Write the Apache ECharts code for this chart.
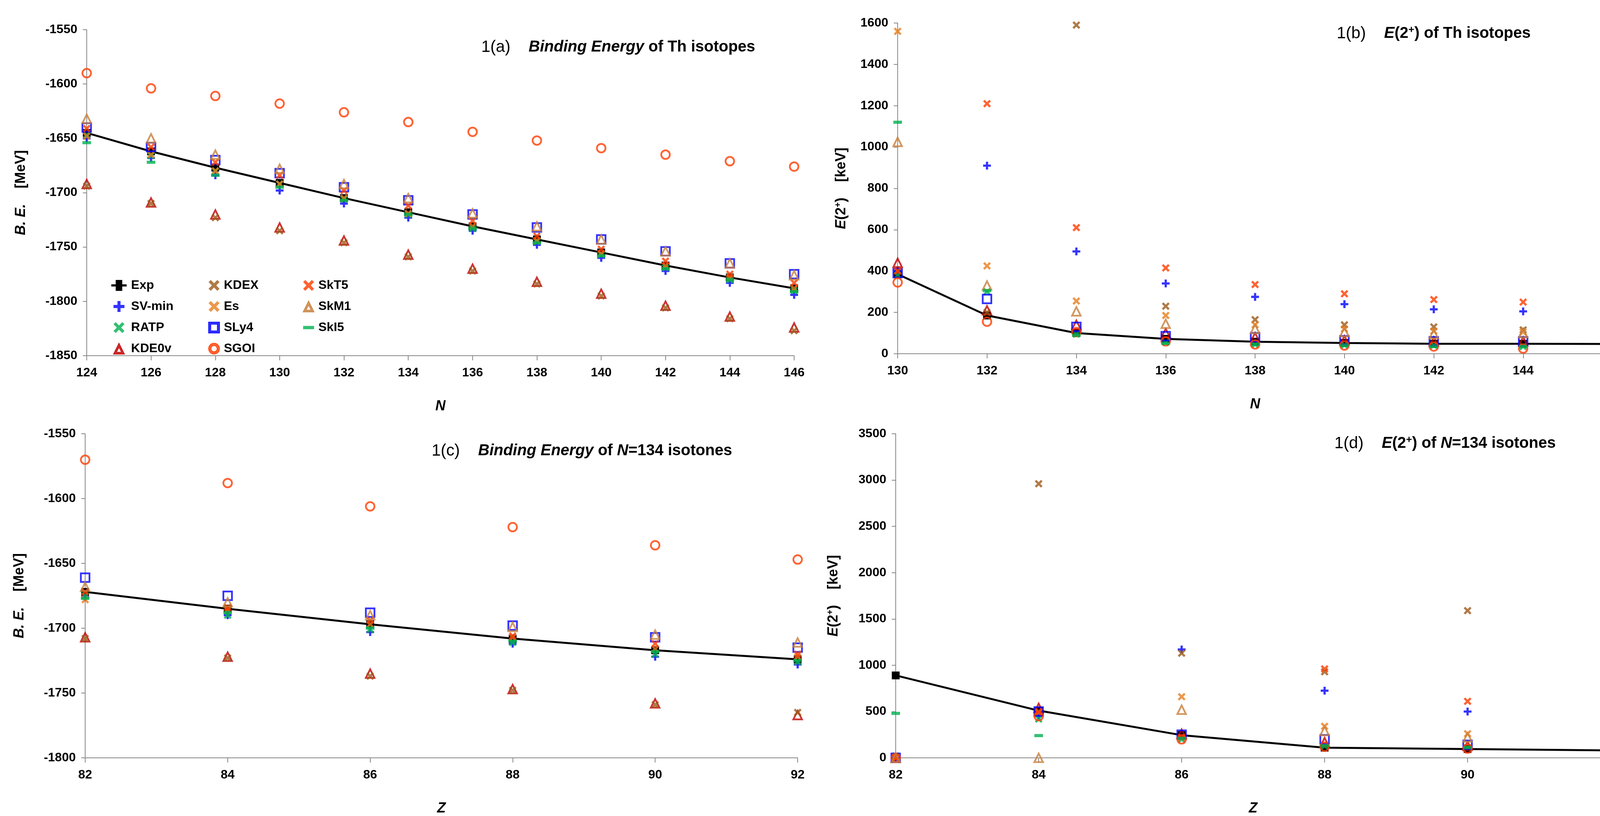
<!DOCTYPE html>
<html><head><meta charset="utf-8">
<script src="https://cdn.jsdelivr.net/npm/echarts@6/dist/echarts.min.js"></script>
<style>html,body{margin:0;padding:0;background:#fff;overflow:hidden}#c{width:4175px;height:2090px}</style>
</head><body><div id="c"></div>
<script>
const seriesNames = ['Exp','SV-min','RATP','KDE0v','KDEX','Es','SLy4','SGOI','SkT5','SkM1','SkI5'];
// Panel (a) binding energy of Th isotopes vs N
const xA = [124,126,128,130,132,134,136,138,140,142,144,146];
const a_Exp  = [-1645,-1662,-1677,-1691,-1705,-1718,-1731,-1743,-1755,-1767,-1778,-1788];
const a_SVmin= [-1650,-1668,-1684,-1698,-1710,-1723,-1735,-1748,-1760,-1772,-1783,-1794];
const a_RATP = [-1647,-1666,-1680,-1692,-1706,-1720,-1733,-1745,-1757,-1769,-1780,-1790];
const a_KDE0v= [-1692,-1709,-1720,-1732,-1744,-1757,-1770,-1782,-1793,-1804,-1814,-1824];
const a_KDEX = [-1694,-1710,-1723,-1735,-1746,-1759,-1772,-1784,-1795,-1806,-1816,-1827];
const a_Es   = [-1648,-1665,-1680,-1692,-1705,-1719,-1731,-1744,-1756,-1767,-1778,-1788];
const a_SLy4 = [-1640,-1658,-1670,-1682,-1695,-1707,-1720,-1732,-1743,-1754,-1765,-1775];
const a_SGOI = [-1590,-1604,-1611,-1618,-1626,-1635,-1644,-1652,-1659,-1665,-1671,-1676];
const a_SkT5 = [-1641,-1658,-1672,-1684,-1698,-1712,-1726,-1740,-1752,-1763,-1775,-1783];
const a_SkM1 = [-1632,-1650,-1665,-1678,-1692,-1705,-1719,-1731,-1743,-1754,-1765,-1776];
const a_SkI5 = [-1654,-1672,-1684,-1695,-1707,-1720,-1733,-1746,-1758,-1770,-1780,-1791];
// Panel (b) E(2+) of Th isotopes vs N
const xB = [130,132,134,136,138,140,142,144,146];
const b_Exp  = [385,185,100,72,58,52,48,48,47];
const b_SVmin= [400,910,495,340,275,240,215,205,200];
const b_RATP = [380,300,95,55,45,42,40,35,35];
const b_KDE0v= [440,210,140,100,80,65,60,60,60];
const b_KDEX = [400,200,1590,230,165,140,130,115,110];
const b_Es   = [1560,425,255,185,140,120,110,105,105];
const b_SLy4 = [390,265,130,85,80,65,60,60,60];
const b_SGOI = [345,155,105,60,45,40,35,25,30];
const b_SkT5 = [400,1210,610,415,335,290,262,250,245];
const b_SkM1 = [1025,330,205,145,120,105,95,100,100];
const b_SkI5 = [1120,305,90,50,45,40,35,35,35];
// Panel (c) binding energy of N=134 isotones vs Z
const xC = [82,84,86,88,90,92];
const c_Exp  = [-1672,-1685,-1697,-1708,-1717,-1724];
const c_SVmin= [-1676,-1690,-1703,-1712,-1722,-1728];
const c_RATP = [-1675,-1690,-1701,-1711,-1720,-1726];
const c_KDE0v= [-1707,-1722,-1735,-1747,-1758,-1767];
const c_KDEX = [-1708,-1723,-1737,-1748,-1759,-1765];
const c_Es   = [-1678,-1686,-1697,-1707,-1716,-1722];
const c_SLy4 = [-1661,-1675,-1688,-1698,-1707,-1715];
const c_SGOI = [-1570,-1588,-1606,-1622,-1636,-1647];
const c_SkT5 = [-1672,-1684,-1694,-1706,-1712,-1720];
const c_SkM1 = [-1668,-1680,-1690,-1699,-1705,-1711];
const c_SkI5 = [-1677,-1688,-1700,-1710,-1718,-1725];
// Panel (d) E(2+) of N=134 isotones vs Z
const xD = [82,84,86,88,90,92];
const d_Exp  = [890,510,245,110,95,80];
const d_SVmin= [0,460,1170,725,500,385];
const d_RATP = [20,420,200,130,110,70];
const d_KDE0v= [0,540,260,170,130,140];
const d_KDEX = [0,2960,1130,930,1590,660];
const d_Es   = [0,490,660,340,260,250];
const d_SLy4 = [0,500,250,200,140,130];
const d_SGOI = [0,450,200,120,100,60];
const d_SkT5 = [0,500,220,960,610,460];
const d_SkM1 = [0,0,520,290,220,200];
const d_SkI5 = [480,240,210,130,110,60];

const panels = [
  {x:xA, d:[a_Exp,a_SVmin,a_RATP,a_KDE0v,a_KDEX,a_Es,a_SLy4,a_SGOI,a_SkT5,a_SkM1,a_SkI5]},
  {x:xB, d:[b_Exp,b_SVmin,b_RATP,b_KDE0v,b_KDEX,b_Es,b_SLy4,b_SGOI,b_SkT5,b_SkM1,b_SkI5]},
  {x:xC, d:[c_Exp,c_SVmin,c_RATP,c_KDE0v,c_KDEX,c_Es,c_SLy4,c_SGOI,c_SkT5,c_SkM1,c_SkI5]},
  {x:xD, d:[d_Exp,d_SVmin,d_RATP,d_KDE0v,d_KDEX,d_Es,d_SLy4,d_SGOI,d_SkT5,d_SkM1,d_SkI5]}
];

const PLUS='path://M3.6,0H6.4V3.6H10V6.4H6.4V10H3.6V6.4H0V3.6H3.6Z';
const XS='path://M2,0L5,3L8,0L10,2L7,5L10,8L8,10L5,7L2,10L0,8L3,5L0,2Z';
const styles = {
  'Exp':   {symbol:'rect', size:20, color:'#000', fill:true},
  'SV-min':{symbol:PLUS, size:20, color:'#0000ff', fill:true},
  'RATP':  {symbol:XS, size:20, color:'#00b050', fill:true},
  'KDE0v': {symbol:'triangle', size:22, color:'#c00000', fill:false},
  'KDEX':  {symbol:XS, size:20, color:'#9c5a1a', fill:true},
  'Es':    {symbol:XS, size:20, color:'#e87d1e', fill:true},
  'SLy4':  {symbol:'rect', size:22, color:'#0000ff', fill:false},
  'SGOI':  {symbol:'circle', size:22, color:'#ff3c00', fill:false},
  'SkT5':  {symbol:XS, size:20, color:'#ff3c00', fill:true},
  'SkM1':  {symbol:'triangle', size:22, color:'#c8803c', fill:false},
  'SkI5':  {symbol:'rect', size:[22,8], color:'#00b050', fill:true}
};
const FONT='"Liberation Sans",Arial,sans-serif';
const grids = [
  {left:222, top:76, width:1811, height:835},
  {left:2298, top:59, width:1830, height:847},
  {left:218, top:1111, width:1824, height:840},
  {left:2293, top:1111, width:1830, height:843}
];
const xr = [[124,146],[130,146],[82,92],[82,92]];
const yr = [[-1850,-1550,50],[0,1600,200],[-1800,-1550,50],[0,3500,500]];
const xnames = ['N','N','Z','Z'];
const axisLine = {lineStyle:{color:'#888',width:2}};
const xAxis = xr.map((r,i)=>({type:'value', gridIndex:i, min:r[0], max:r[1], interval:2,
  name:xnames[i], nameLocation:'middle', nameGap:112,
  nameTextStyle:{fontFamily:FONT, fontSize:36, fontWeight:'bold', fontStyle:'italic', color:'#000'},
  axisLine:axisLine, axisTick:{length:12, lineStyle:{color:'#888',width:2}}, splitLine:{show:false},
  axisLabel:{fontFamily:FONT, fontSize:32, fontWeight:'bold', color:'#000', margin:28, formatter:v=>String(v)}}));
const yAxis = yr.map((r,i)=>({type:'value', gridIndex:i, min:r[0], max:r[1], interval:r[2],
  name: (i%2===0)?'{i|B. E.}    {n|[MeV]}':'{i|E}{n|(2}{s|+}{n|)    [keV]}',
  nameLocation:'middle', nameGap:(i%2===0)?150:(i===1?125:140), nameRotate:90,
  nameTextStyle:{fontFamily:FONT, fontSize:36, fontWeight:'bold', color:'#000',
    rich:{i:{fontFamily:FONT,fontSize:36,fontWeight:'bold',fontStyle:'italic'},
          n:{fontFamily:FONT,fontSize:36,fontWeight:'bold'},
          s:{fontFamily:FONT,fontSize:22,fontWeight:'bold',verticalAlign:'top',padding:[0,0,16,0]}}},
  axisLine:{show:true, lineStyle:{color:'#888',width:2}}, axisTick:{show:true,length:10,lineStyle:{color:'#888',width:2}},
  splitLine:{show:false},
  axisLabel:{fontFamily:FONT, fontSize:32, fontWeight:'bold', color:'#000', margin:24, formatter:v=>String(v)}}));

const series=[];
panels.forEach((p,gi)=>{
  seriesNames.forEach((nm,si)=>{
    const st=styles[nm];
    const data=p.x.map((x,k)=>[x,p.d[si][k]]);
    const s={name:nm, xAxisIndex:gi, yAxisIndex:gi, data:data, symbol:st.symbol, symbolSize:st.size,
      itemStyle: st.fill?{color:st.color}:{color:'rgba(255,255,255,0)', borderColor:st.color, borderWidth:4.5},
      z: nm==='Exp'?2:3, silent:true, animation:false};
    if(nm==='Exp'){ s.type='line'; s.lineStyle={color:'#000',width:5}; s.showSymbol=true; }
    else s.type='scatter';
    series.push(s);
  });
});

function iconFor(n){
  const st=styles[n];
  if(n==='Exp') return 'path://M0,4H4V0H10V4H14V6H10V10H4V6H0Z';
  if(st.symbol==='rect'&&!st.fill) return 'path://M0,0H10V10H0ZM2,2V8H8V2Z';
  if(st.symbol==='triangle') return 'path://M5,0L10,10H0ZM5,3.8L2.6,8.3H7.4Z';
  if(st.symbol==='circle') return 'path://M5,0A5,5 0 1 1 4.99,0ZM5,2.2A2.8,2.8 0 1 0 5.01,2.2Z';
  if(n==='SkI5') return 'path://M0,3.5H10V6.5H0Z';
  return st.symbol;
}
function legendCol(names, left, top){
  return {orient:'vertical', left:left, top:top, itemGap:22, itemWidth:28, itemHeight:28,
    data:names.map(n=>({name:n, icon:iconFor(n), itemStyle:{color:styles[n].color}})),
    textStyle:{fontFamily:FONT, fontSize:32, fontWeight:'bold', color:'#000', padding:[0,0,0,6]}, selectedMode:false};
}
const legends=[legendCol(['Exp','SV-min','RATP','KDE0v'],280,710),
  legendCol(['KDEX','Es','SLy4','SGOI'],528,710),
  legendCol(['SkT5','SkM1','SkI5'],770,710)];
legends[0].itemWidth=40;

function title(txt, left, top){
  return {type:'text', left:left, top:top, style:{text:txt, fontFamily:FONT, fontSize:40, fill:'#000',
   rich:{n:{fontFamily:FONT,fontSize:42,fill:'#000'}, nb:{fontFamily:FONT,fontSize:40,fontWeight:'bold',fill:'#000'},
     b:{fontFamily:FONT,fontSize:40,fontWeight:'bold',fontStyle:'italic',fill:'#000'},
     s:{fontFamily:FONT,fontSize:26,fontWeight:'bold',fill:'#000',verticalAlign:'top',padding:[0,0,18,0]}}}};
}
const graphic=[
  title('{n|1(a)    }{b|Binding Energy}{nb| of Th isotopes}',1232,100),
  title('{n|1(b)    }{b|E}{nb|(2}{s|+}{nb|) of Th isotopes}',3422,64),
  title('{n|1(c)    }{b|Binding Energy}{nb| of }{b|N}{nb|=134 isotones}',1105,1134),
  title('{n|1(d)    }{b|E}{nb|(2}{s|+}{nb|) of }{b|N}{nb|=134 isotones}',3416,1114)
];
const chart=echarts.init(document.getElementById('c'));
chart.setOption({animation:false, backgroundColor:'#fff', grid:grids, xAxis:xAxis, yAxis:yAxis,
  legend:legends, series:series, graphic:graphic});
</script></body></html>
